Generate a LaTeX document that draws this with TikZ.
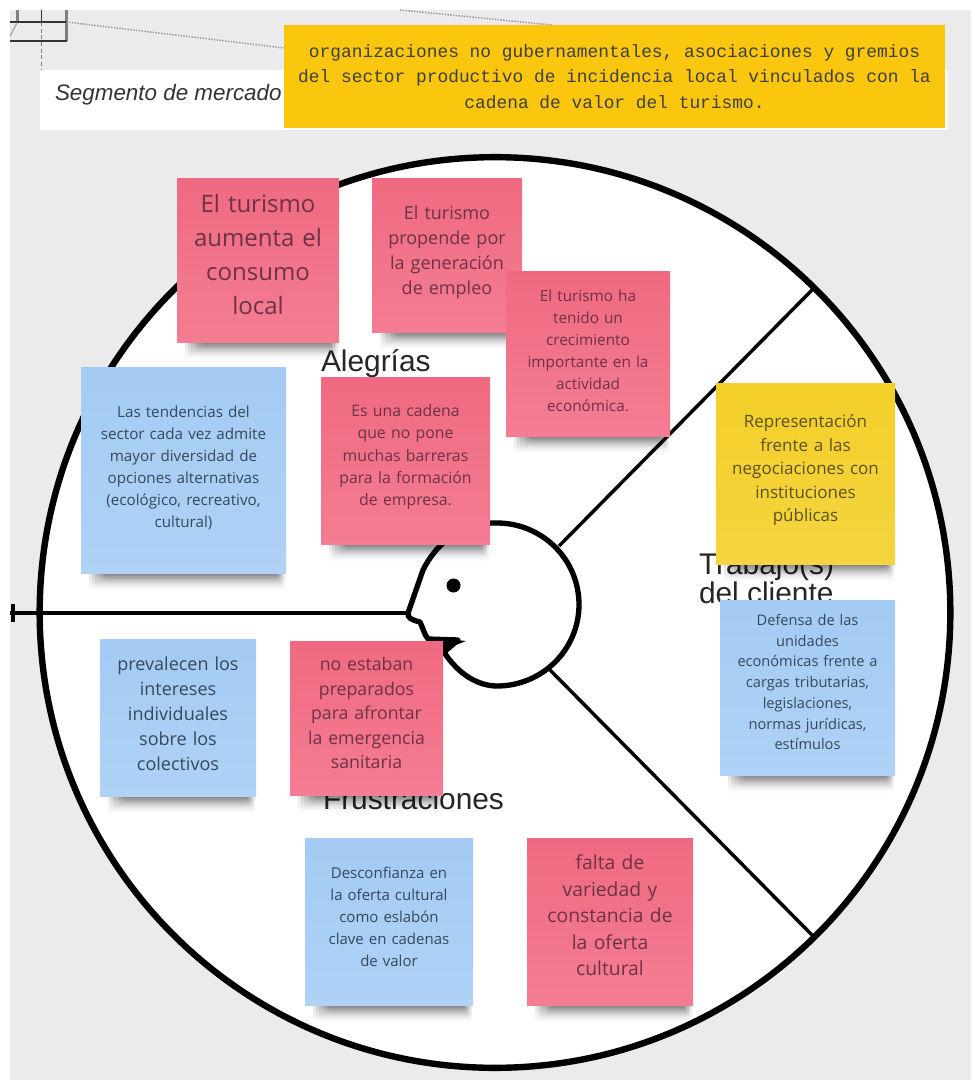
\documentclass[tikz,border=0pt]{standalone}
\usepackage{fontspec}
\setmainfont{Open Sans}
\newfontfamily\labelfont{Liberation Sans}
\newfontfamily\monofont{Liberation Mono}
\usetikzlibrary{fadings}
\definecolor{bggray}{HTML}{EBEBEB}
\definecolor{redtop}{HTML}{EF6A80}
\definecolor{redbot}{HTML}{F47D93}
\definecolor{bluetop}{HTML}{A3CBF3}
\definecolor{bluebot}{HTML}{AFD2F6}
\definecolor{yeltop}{HTML}{F3CF28}
\definecolor{yelbot}{HTML}{F5D540}
\definecolor{redtxt}{HTML}{6E3244}
\definecolor{bluetxt}{HTML}{36485C}
\definecolor{yeltxt}{HTML}{5C5122}
\definecolor{banner}{HTML}{FAC60E}
\tikzset{
  note/.style={rectangle,inner sep=0pt,outer sep=0pt,align=center},
  rednote/.style={note,top color=redtop,bottom color=redbot,text=redtxt},
  bluenote/.style={note,top color=bluetop,bottom color=bluebot,text=bluetxt},
  yelnote/.style={note,top color=yeltop,bottom color=yelbot,text=yeltxt},
  spoke/.style={draw=black,line width=2.6pt},
  zonelabel/.style={inner sep=0pt,outer sep=0pt,anchor=west,align=left,text=black!85,font=\labelfont\fontsize{22.4pt}{20.5pt}\selectfont},
  faint/.style={draw=gray!80,line width=1.1pt,densely dotted},
  gridline/.style={draw=black!80,line width=1.1pt},
  softline/.style={draw=gray,line width=1.6pt}
}
\newcommand{\lift}[1]{\par\vspace{#1}}
% #1 name, #2 style, #3 x0, #4 y0, #5 x1, #6 y1, #7 font px, #8 leading px, #9 text
\newcommand{\sticky}[9]{%
  \pgfmathsetmacro{\nx}{(#3+#5)/2}\pgfmathsetmacro{\ny}{(#4+#6)/2}%
  \pgfmathsetmacro{\nw}{(#5-#3)*0.75}\pgfmathsetmacro{\nh}{(#6-#4)*0.75}%
  \pgfmathsetmacro{\nf}{#7*0.75}\pgfmathsetmacro{\nl}{#8*0.75}%
  \foreach \k in {0,...,5}{
    \fill[black,opacity=.13,path fading=south] (#3+8+3.2*\k,#6-3) rectangle (#5-1-1.6*\k,#6+18-2.2*\k);
  }
  \node[#2,minimum width=\nw pt,minimum height=\nh pt,text width=\nw pt,font=\fontsize{\nf pt}{\nl pt}\selectfont] (#1) at (\nx,\ny) {#9};
}
\begin{document}
\begin{tikzpicture}[x=0.75pt,y=-0.75pt]
\useasboundingbox (0,0) rectangle (974,1080);
\fill[white] (0,0) rectangle (974,1080);
\fill[bggray] (10,10) rectangle (971,1080);
% top-left fragments
\coordinate (ga) at (10,41); \coordinate (gb) at (66.5,41);
\coordinate (gc) at (10,22); \coordinate (gd) at (66.5,22);
\coordinate (ge) at (66.5,10); \coordinate (gf) at (41.5,10); \coordinate (gg) at (41.5,70);
\coordinate (gh) at (17.5,10); \coordinate (gi) at (17.5,22);
\coordinate (gj) at (400,10); \coordinate (gk) at (552,25);
\coordinate (gl) at (284,48); \coordinate (gm) at (10,36); \coordinate (gn) at (17,23);
\draw[softline] (gh) -- (gi);
\draw[softline] (ge) -- (gb);
\draw[gridline] (gf) -- (41.5,22);
\draw[gridline] (ga) -- (gb);
\draw[gridline] (gc) -- (gd);
\draw[draw=gray,line width=1pt,densely dashed] (41.5,22) -- (gg);
\draw[draw=gray!70,line width=1pt] (gm) -- (gn);
\draw[faint] (gd) -- (gl);
\draw[faint] (gj) -- (gk);
% segment band
\node[fill=white,inner sep=0pt,outer sep=0pt,minimum width=681pt,minimum height=45pt] (band) at (494,100) {};
\node[inner sep=0pt,outer sep=0pt,anchor=west,text=black!80] (seg) at (55,94.5) {\labelfont\itshape\fontsize{16.8pt}{18pt}\selectfont Segmento de mercado};
\node[fill=banner,inner sep=0pt,outer sep=0pt,minimum width=495.75pt,minimum height=77.25pt,text width=495pt,align=center,text=black!75,font=\monofont\fontsize{13.4pt}{18.9pt}\selectfont] (bannerbox) at (614.5,76.5)
 {\spaceskip=8.04pt\relax organizaciones no gubernamentales, asociaciones y gremios\\del sector productivo de incidencia local vinculados con la\\cadena de valor del turismo.};
% wheel
\node[circle,draw=black,line width=4.8pt,fill=white,minimum size=683pt,inner sep=0pt] (wheel) at (495,612.5) {};
\coordinate (tipL) at (10,613);
\coordinate (upR) at (812,290);
\coordinate (lowR) at (812,935);
\coordinate (headU) at (559,546);
\coordinate (headD) at (550,670);
\coordinate (nose) at (408,613);
\coordinate (tipA) at (12.5,604);
\coordinate (tipB) at (12.5,622);
\draw[spoke] (headU) -- (upR);
\draw[spoke] (headD) -- (lowR);
\draw[draw=black,line width=2.8pt] (nose) -- (tipL);
\draw[draw=black,line width=3pt] (tipA) -- (tipB);
% head
\fill[white,draw=black,line width=4pt,line join=round]
  (nose) .. controls (407,618) and (412,620) .. (420,622)
  .. controls (423,628) and (424,634) .. (428,639) -- (458,640)
  -- (444,652)
  .. controls (458,674) and (478,686) .. (497,686)
  arc[start angle=90,end angle=-90,x radius=82,y radius=81.5]
  .. controls (465,522) and (438,540) .. (423,570) -- cycle;
\fill[black] (427,637) -- (466,641) -- (443,650) -- cycle;
\node[circle,fill=black,inner sep=0pt,minimum size=10.5pt] (eye) at (453.5,585.5) {};
% labels under notes
\node[zonelabel] (alegrias) at (321,364) {Alegrías};
\node[zonelabel] (trabajo) at (699,578) {Trabajo(s)\\del cliente};
\node[zonelabel] (frustr) at (323,799) {Frustraciones};
% notes
\sticky{r1}{rednote}{177}{179}{339}{342}{24}{34}{El turismo\\aumenta el\\consumo\\local\lift{9pt}}
\sticky{r2}{rednote}{372}{179}{522}{332}{18}{25}{El turismo\\propende por\\la generación\\de empleo\lift{4.5pt}}
\sticky{r3}{rednote}{506}{272}{670}{436}{15.3}{22}{El turismo ha\\tenido un\\crecimiento\\importante en la\\actividad\\económica.\lift{5pt}}
\sticky{b1}{bluenote}{81}{367}{286}{573}{15.2}{22}{Las tendencias del\\sector cada vez admite\\mayor diversidad de\\opciones alternativas\\(ecológico, recreativo,\\cultural)\lift{3.7pt}}
\sticky{r4}{rednote}{321}{377}{490}{544}{15.8}{22.3}{Es una cadena\\que no pone\\muchas barreras\\para la formación\\de empresa.\lift{5pt}}
\sticky{y1}{yelnote}{716}{383}{895}{564}{17}{23.5}{Representación\\frente a las\\negociaciones con\\instituciones\\públicas\lift{4.5pt}}
\sticky{b2}{bluenote}{720}{600}{895}{775}{14.6}{20.7}{Defensa de las\\unidades\\económicas frente a\\cargas tributarias,\\legislaciones,\\normas jurídicas,\\estímulos\lift{8pt}}
\sticky{b3}{bluenote}{100}{639}{256}{796}{18}{25}{prevalecen los\\intereses\\individuales\\sobre los\\colectivos\lift{6pt}}
\sticky{r5}{rednote}{290}{641}{443}{795}{17.7}{24.5}{no estaban\\preparados\\para afrontar\\la emergencia\\sanitaria\lift{7pt}}
\sticky{b4}{bluenote}{305}{838}{473}{1005}{15}{22}{Desconfianza en\\la oferta cultural\\como eslabón\\clave en cadenas\\de valor\lift{7pt}}
\sticky{r6}{rednote}{527}{838}{693}{1005}{19.3}{26.5}{falta de\\variedad y\\constancia de\\la oferta\\cultural\lift{9pt}}
\end{tikzpicture}
\end{document}
